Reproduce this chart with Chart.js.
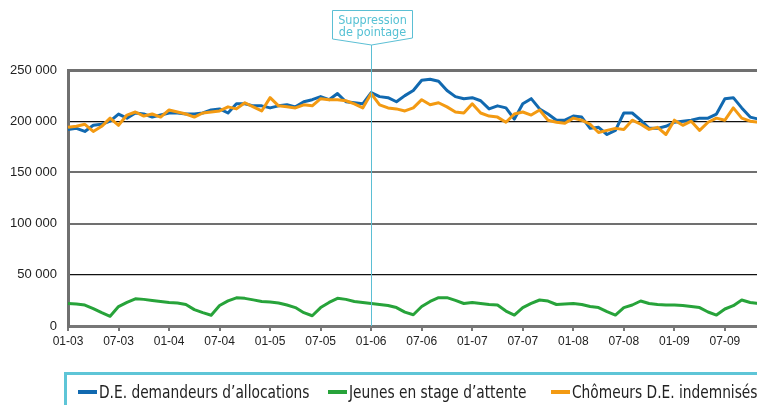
<!DOCTYPE html>
<html lang="fr">
<head>
<meta charset="utf-8">
<title>Chômage indemnisé</title>
<script src="https://cdn.jsdelivr.net/npm/chart.js@4.4.1/dist/chart.umd.min.js"></script>
<style>
  html, body { margin: 0; padding: 0; background: #fff; overflow: hidden; }
  #wrap { position: relative; width: 757px; height: 405px; overflow: hidden; }
  #c { position: absolute; left: 0; top: 0; }
  #legend {
    position: absolute; left: 64px; top: 372px; width: 740px; height: 44px;
    border: 3px solid #5ec5d7; box-sizing: border-box;
    font-family: "Liberation Sans Narrow", "DejaVu Sans Condensed", "Liberation Sans", sans-serif;
    font-size: 17px; color: #222;
  }
  .item { position: absolute; top: 7px; white-space: nowrap; }
  .mark { display: inline-block; width: 19px; height: 4px; vertical-align: middle; margin-right: 2px; position: relative; top: -1px; }
  .txt { display: inline-block; transform: scaleX(0.9); transform-origin: left center; }
</style>
</head>
<body>
<div id="wrap">
  <canvas id="c" width="770" height="405"></canvas>
  <div id="legend"></div>
</div>
<script>
// months (mm-yy)
const months = [
  '01-03','02-03','03-03','04-03','05-03','06-03','07-03','08-03','09-03','10-03','11-03','12-03',
  '01-04','02-04','03-04','04-04','05-04','06-04','07-04','08-04','09-04','10-04','11-04','12-04',
  '01-05','02-05','03-05','04-05','05-05','06-05','07-05','08-05','09-05','10-05','11-05','12-05',
  '01-06','02-06','03-06','04-06','05-06','06-06','07-06','08-06','09-06','10-06','11-06','12-06',
  '01-07','02-07','03-07','04-07','05-07','06-07','07-07','08-07','09-07','10-07','11-07','12-07',
  '01-08','02-08','03-08','04-08','05-08','06-08','07-08','08-08','09-08','10-08','11-08','12-08',
  '01-09','02-09','03-09','04-09','05-09','06-09','07-09','08-09','09-09','10-09','11-09','12-09'
];

const allocations = [
  192000,193000,190000,196000,197000,200000,207000,203000,208000,207000,204000,206000,
  208000,208000,207000,207000,208000,211000,212000,208000,217000,217000,215000,215000,
  213000,215000,216000,214000,219000,221000,224000,221000,227000,219000,218000,217000,
  228000,224000,223000,219000,225000,230000,240000,241000,239000,230000,224000,222000,
  223000,220000,212000,215000,213000,202000,217000,222000,212000,207000,201000,201000,
  205000,204000,193000,194000,187000,191000,208000,208000,201000,193000,193000,195000,
  199000,200000,201000,203000,203000,207000,222000,223000,213000,204000,202000,201000
];

const jeunes = [
  22000,21500,20500,17000,13000,9500,19000,23000,26500,26000,25000,24000,
  23000,22500,21000,16000,13000,10500,20000,24500,27500,27000,25500,24000,
  23500,22500,20500,18000,13000,10000,18000,23000,27000,26000,24000,23000,
  22000,21000,20000,18000,13500,11000,19000,24000,27700,27700,25000,22000,
  23000,22000,21000,20500,14600,10700,18000,22000,25400,24400,21000,21500,
  22000,21000,19000,18000,14000,10700,18000,20500,24400,22000,21000,20500,
  20500,20000,19000,18000,13700,10700,16600,19800,25400,23000,22000,21000
];

const indemnises = [
  194000,195000,197000,190000,195000,203000,196000,206000,209000,205000,207000,204000,
  211000,209000,207000,204000,208000,209000,210000,214000,212000,218000,214000,210000,
  223000,215000,214000,213000,216000,215000,222000,221000,221000,220000,217000,213000,
  227000,216000,213000,212000,210000,213000,221000,216000,218000,214000,209000,208000,
  217000,208000,205000,204000,199000,207000,209000,206000,211000,201000,199000,198000,
  203000,201000,197000,189000,191000,193000,192000,201000,197000,192000,194000,187000,
  201000,196000,200000,191000,199000,203000,201000,213000,203000,200000,199000,200000
];

const seriesNames = ['D.E. demandeurs d\u2019allocations', 'Jeunes en stage d\u2019attente', 'Ch\u00f4meurs D.E. indemnis\u00e9s'];
const seriesColors = ['#1169b0', '#27a33a', '#f39a12'];
const yTicks = [0, 50000, 100000, 150000, 200000, 250000];
const breakMonth = '01-06';
const breakText = ['Suppression', 'de pointage'];

const fmt = v => String(v).replace(/\B(?=(\d{3})+(?!\d))/g, ' ');

// callout + vertical line at the "suppression de pointage" date
const calloutPlugin = {
  id: 'callout',
  afterDatasetsDraw(chart) {
    const ctx = chart.ctx;
    const x = Math.round(chart.scales.x.getPixelForValue(months.indexOf(breakMonth))) + 0.5;
    const bottom = chart.chartArea.bottom;
    ctx.save();
    ctx.strokeStyle = '#5bbfd4';
    ctx.lineWidth = 1;
    ctx.beginPath();
    ctx.moveTo(x, 45);
    ctx.lineTo(x, bottom);
    ctx.stroke();

    ctx.beginPath();
    ctx.moveTo(x - 39, 10.5);
    ctx.lineTo(x + 41, 10.5);
    ctx.lineTo(x + 41, 38);
    ctx.lineTo(x, 45);
    ctx.lineTo(x - 39, 39);
    ctx.closePath();
    ctx.fillStyle = '#fff';
    ctx.fill();
    ctx.stroke();

    ctx.fillStyle = '#55c1d4';
    ctx.font = '12.5px "Liberation Sans Narrow", "DejaVu Sans Condensed", "Liberation Sans", sans-serif';
    ctx.textAlign = 'center';
    ctx.textBaseline = 'middle';
    ctx.fillText(breakText[0], x + 1, 21);
    ctx.fillText(breakText[1], x + 1, 33);
    ctx.restore();
  }
};

const ctx = document.getElementById('c').getContext('2d');
const chart = new Chart(ctx, {
  type: 'line',
  data: {
    labels: months,
    datasets: [
      { label: seriesNames[0], data: allocations, borderColor: seriesColors[0], order: 1 },
      { label: seriesNames[1], data: jeunes, borderColor: seriesColors[1], order: 2 },
      { label: seriesNames[2], data: indemnises, borderColor: seriesColors[2], order: 0 }
    ]
  },
  options: {
    responsive: false,
    animation: false,
    layout: { padding: { top: 70, right: 3, bottom: 55, left: 0 } },
    elements: {
      line: { borderWidth: 3, tension: 0, borderJoinStyle: 'round' },
      point: { radius: 0, hoverRadius: 0 }
    },
    plugins: {
      legend: { display: false },
      tooltip: { enabled: false }
    },
    scales: {
      x: {
        grid: {
          drawOnChartArea: false,
          tickLength: 5,
          lineWidth: 2,
          color: c => (c.index % 6 === 0 ? '#777' : 'rgba(0,0,0,0)')
        },
        border: { color: '#777', width: 3 },
        ticks: {
          autoSkip: false,
          maxRotation: 0,
          minRotation: 0,
          padding: 3,
          color: '#222',
          font: { family: '"Liberation Sans", Arial, sans-serif', size: 12 },
          callback: (v, i) => (i % 6 === 0 ? months[i] : '')
        },
        afterFit: s => { s.height = 24; }
      },
      y: {
        min: 0,
        max: 250000,
        afterBuildTicks: s => { s.ticks = yTicks.map(v => ({ value: v })); },
        grid: {
          drawTicks: false,
          color: c => (c.tick.value === 200000 || c.tick.value === 50000 ? '#111' : '#707070'),
          lineWidth: c => {
            const v = c.tick.value;
            if (v === 250000 || v === 0) return 3;
            if (v === 200000 || v === 50000) return 1.3;
            return 2;
          }
        },
        border: { color: '#707070', width: 3 },
        ticks: {
          padding: 11,
          color: '#222',
          font: { family: '"Liberation Sans", Arial, sans-serif', size: 13 },
          callback: v => fmt(v)
        },
        afterFit: s => { s.width = 68; }
      }
    }
  },
  plugins: [calloutPlugin]
});

// legend box below the chart
const legendPos = [11, 261, 484];
const legend = document.getElementById('legend');
seriesNames.forEach((name, i) => {
  const item = document.createElement('div');
  item.className = 'item';
  item.style.left = legendPos[i] + 'px';
  const mark = document.createElement('span');
  mark.className = 'mark';
  mark.style.background = seriesColors[i];
  const txt = document.createElement('span');
  txt.className = 'txt';
  txt.textContent = name;
  item.appendChild(mark);
  item.appendChild(txt);
  legend.appendChild(item);
});
</script>
</body>
</html>
